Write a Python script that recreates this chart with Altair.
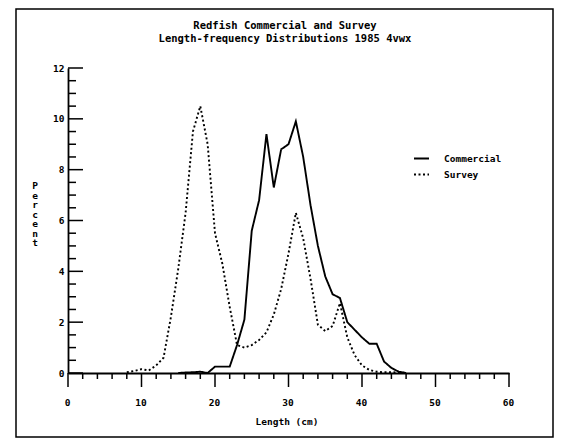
import altair as alt
import pandas as pd

title_lines = ["Redfish Commercial and Survey",
               "Length-frequency Distributions 1985 4vwx"]
x_title = "Length (cm)"
y_title = "Percent"
series_names = ["Commercial", "Survey"]

comm_len = [15, 16, 17, 18, 19, 20, 21, 22, 23, 24, 25, 26, 27, 28, 29, 30,
            31, 32, 33, 34, 35, 36, 37, 38, 39, 40, 41, 42, 43, 44, 45, 46]
comm_pct = [0.0, 0.02, 0.03, 0.05, 0.0, 0.25, 0.25, 0.25, 1.1, 2.1, 5.6, 6.8,
            9.4, 7.3, 8.8, 9.0, 9.9, 8.5, 6.6, 5.0, 3.8, 3.1, 2.95, 2.0, 1.7,
            1.4, 1.15, 1.15, 0.45, 0.2, 0.05, 0.0]

surv_len = [8, 9, 10, 11, 12, 13, 14, 15, 16, 17, 18, 19, 20, 21, 22, 23, 24,
            25, 26, 27, 28, 29, 30, 31, 32, 33, 34, 35, 36, 37, 38, 39, 40,
            41, 42, 43, 44, 45, 46]
surv_pct = [0.03, 0.08, 0.15, 0.1, 0.3, 0.6, 2.2, 4.1, 6.3, 9.5, 10.5, 9.0,
            5.5, 4.3, 2.6, 1.1, 1.0, 1.1, 1.3, 1.6, 2.3, 3.3, 4.7, 6.3, 5.3,
            3.7, 1.9, 1.65, 1.85, 2.75, 1.4, 0.7, 0.3, 0.12, 0.05, 0.03, 0.03,
            0.02, 0.0]

x_major = [0, 10, 20, 30, 40, 50, 60]
x_minor = [2, 4, 6, 8, 12, 14, 16, 18, 22, 24, 26, 28, 32, 34, 36, 38,
           42, 44, 46, 48, 52, 54, 56, 58]
y_major = [0, 2, 4, 6, 8, 10, 12]
y_minor = [0.5, 1, 1.5, 2.5, 3, 3.5, 4.5, 5, 5.5, 6.5, 7, 7.5, 8.5, 9, 9.5,
           10.5, 11, 11.5]

rows = []
for L, p in zip(comm_len, comm_pct):
    rows.append({"length": L, "pct": p, "series": series_names[0]})
for L, p in zip(surv_len, surv_pct):
    rows.append({"length": L, "pct": p, "series": series_names[1]})
df = pd.DataFrame(rows)

FONT = "DejaVu Sans Mono"
W, H = 441, 305

xs = alt.Scale(domain=[0, 60], nice=False, zero=False)
ys = alt.Scale(domain=[0, 12], nice=False)
x_axis = alt.Axis(values=x_major, ticks=False, title=None, labelPadding=24,
                  format="d", domain=True, labelFlush=False, labelOffset=-1)
y_axis = alt.Axis(values=y_major, ticks=False, title=None, labelPadding=4,
                  format="d", domain=True, labelFlush=False)

lines = alt.Chart(df).mark_line(strokeWidth=1.9, color="black").encode(
    x=alt.X("length:Q", scale=xs, axis=x_axis),
    y=alt.Y("pct:Q", scale=ys, axis=y_axis),
    strokeDash=alt.StrokeDash(
        "series:N",
        scale=alt.Scale(domain=series_names, range=[[1, 0], [2, 2.5]]),
        legend=alt.Legend(title=None, orient="none", legendX=345, legendY=82,
                          symbolType="stroke", symbolSize=225,
                          symbolStrokeWidth=1.8, symbolStrokeColor="black",
                          labelFont=FONT, labelFontSize=9.5,
                          labelFontWeight="bold", labelColor="black",
                          labelOffset=14, rowPadding=3, padding=0)),
    order="length:Q",
)

ytick_major = alt.Chart(pd.DataFrame({"v": y_major})).mark_rule(
    color="black", strokeWidth=1.5).encode(
    y=alt.Y("v:Q", scale=ys, axis=y_axis), x=alt.value(0), x2=alt.value(15))
ytick_minor = alt.Chart(pd.DataFrame({"v": y_minor})).mark_rule(
    color="black", strokeWidth=1.5).encode(
    y=alt.Y("v:Q", scale=ys, axis=y_axis), x=alt.value(0), x2=alt.value(8))
xtick_major = alt.Chart(pd.DataFrame({"v": x_major})).mark_rule(
    color="black", strokeWidth=1.5).encode(
    x=alt.X("v:Q", scale=xs, axis=x_axis), y=alt.value(H), y2=alt.value(H + 14))
xtick_minor = alt.Chart(pd.DataFrame({"v": x_minor})).mark_rule(
    color="black", strokeWidth=1.5).encode(
    x=alt.X("v:Q", scale=xs, axis=x_axis), y=alt.value(H), y2=alt.value(H + 6))

one = pd.DataFrame({"k": [0]})
title_txt = alt.Chart(one).mark_text(
    text=title_lines, font=FONT, fontSize=10.5, fontWeight="bold",
    lineHeight=13, align="center", baseline="top", color="black").encode(
    x=alt.value(217), y=alt.value(-47))
xtitle_txt = alt.Chart(one).mark_text(
    text=x_title, font=FONT, fontSize=9.5, fontWeight="bold",
    align="center", baseline="top", color="black").encode(
    x=alt.value(219), y=alt.value(349))
ytitle_txt = alt.Chart(one).mark_text(
    text=list(y_title), font=FONT, fontSize=9.5, fontWeight="bold",
    lineHeight=9.5, align="center", baseline="top", color="black").encode(
    x=alt.value(-33), y=alt.value(113))
frame = alt.Chart(one).mark_rect(
    fillOpacity=0, stroke="black", strokeWidth=1.5).encode(
    x=alt.value(-52), x2=alt.value(485), y=alt.value(-59), y2=alt.value(369))

chart = alt.layer(
    lines, ytick_major, ytick_minor, xtick_major, xtick_minor,
    title_txt, xtitle_txt, ytitle_txt, frame
).properties(
    width=W, height=H,
    padding={"left": 60, "top": 60, "right": 47, "bottom": 65},
    autosize=alt.AutoSizeParams(type="none"),
).configure_view(stroke=None).configure_axis(
    domainColor="black", domainWidth=1.8, grid=False,
    labelFont=FONT, labelFontSize=9.5, labelFontWeight="bold",
    labelColor="black",
)

chart.save("out.html", embed_options={"renderer": "svg", "actions": False})
